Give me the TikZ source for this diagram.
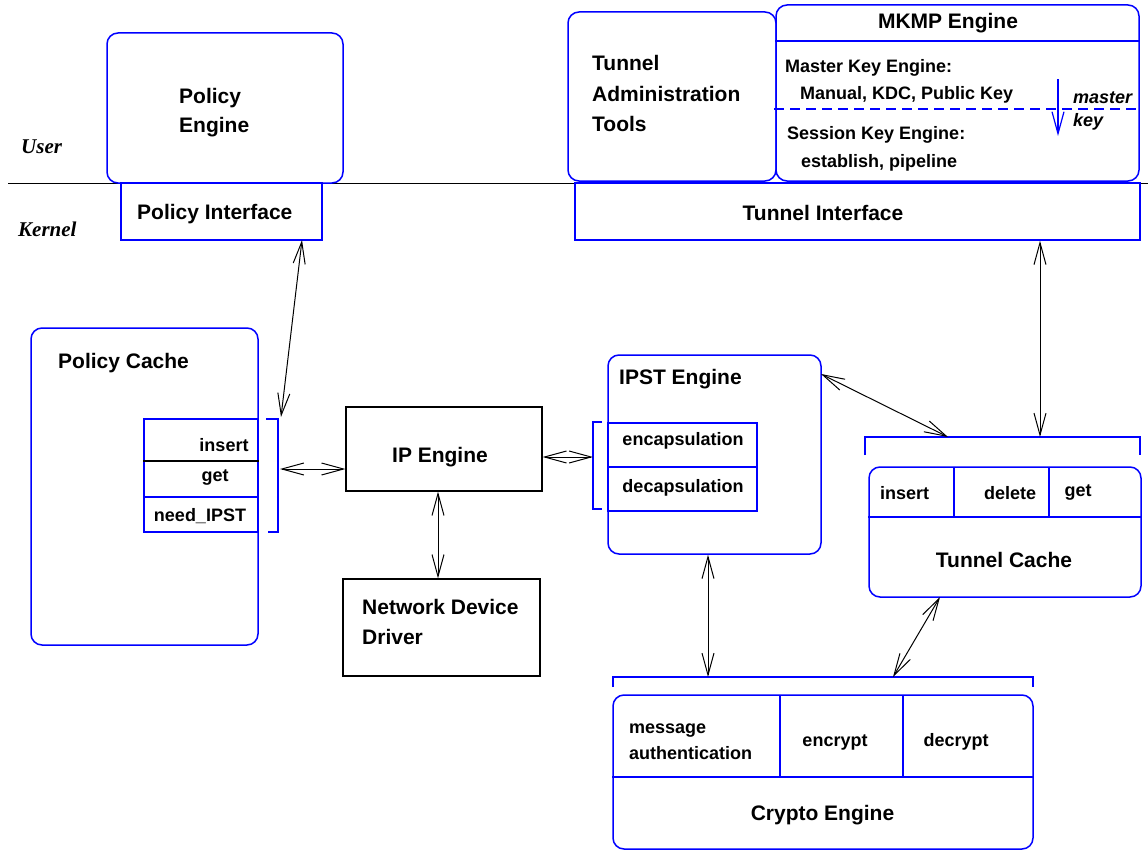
\documentclass[tikz,border=0pt]{standalone}
\usepackage{fontspec}
\setmainfont{Liberation Sans}
\newfontfamily\tnr{Liberation Serif}
\usetikzlibrary{arrows.meta}
\definecolor{fblue}{RGB}{0,0,255}
\tikzset{
  rbox/.style={draw=fblue, line width=1.5pt, rounded corners=11pt, inner sep=0pt},
  sbox/.style={draw=fblue, line width=1.5pt, inner sep=0pt},
  kbox/.style={draw=black, line width=1.2pt, inner sep=0pt},
  bline/.style={draw=fblue, line width=1.5pt},
  big/.style={font=\fontsize{21}{25}\selectfont\bfseries, inner sep=0pt},
  small/.style={font=\fontsize{18}{22}\selectfont\bfseries, inner sep=0pt},
  smallit/.style={font=\fontsize{18}{22}\selectfont\bfseries\itshape, inner sep=0pt},
  serifit/.style={font=\fontsize{21}{25}\tnr\bfseries\itshape, inner sep=0pt},
  arr/.style={draw=black, line width=1pt,
    {Straight Barb[length=22pt,width=12pt]}-{Straight Barb[length=22pt,width=12pt]}},
}
\begin{document}
\begin{tikzpicture}[x=1pt,y=-1pt]
\useasboundingbox (0,0) rectangle (1148,851);

% user / kernel divider
\coordinate (divL) at (8,183);
\coordinate (divR) at (1148,183);
\draw[line width=1pt] (divL) -- (divR);
\node[serifit, anchor=mid west] (user) at (21,151) {User};
\node[serifit, anchor=mid west] (kernel) at (18,234) {Kernel};

% Policy engine and interface
\node[rbox, minimum width=236pt, minimum height=150pt] (pe) at (225,108) {};
\node[big, anchor=mid west] (peA) at (179,101) {Policy};
\node[big, anchor=mid west] (peB) at (179,130) {Engine};
\node[sbox, minimum width=201pt, minimum height=57pt] (pi) at (221.5,211.5) {};
\node[big, anchor=mid west] (piT) at (137,217) {Policy Interface};

% Tunnel administration tools
\node[rbox, minimum width=208pt, minimum height=169pt] (tat) at (672,96.5) {};
\node[big, anchor=mid west] (tatA) at (592,68) {Tunnel};
\node[big, anchor=mid west] (tatB) at (592,99) {Administration};
\node[big, anchor=mid west] (tatC) at (592,129) {Tools};

% MKMP engine
\node[rbox, minimum width=363pt, minimum height=176pt] (mk) at (957.5,93) {};
\draw[bline] (mk.west |- 0,41) -- (mk.east |- 0,41);
\draw[draw=fblue, line width=1.5pt, dash pattern=on 10pt off 6pt] (774,109) -- (mk.east |- 0,109);
\node[big] (mkT) at (948,23) {MKMP Engine};
\node[small, anchor=mid west] (mkA) at (785,70) {Master Key Engine:};
\node[small, anchor=mid west] (mkB) at (800,97) {Manual, KDC, Public Key};
\node[small, anchor=mid west] (mkC) at (787,137) {Session Key Engine:};
\node[small, anchor=mid west] (mkD) at (801,165) {establish, pipeline};
\coordinate (mkeyA) at (1058,79);
\coordinate (mkeyB) at (1058,136);
\draw[draw=fblue, line width=1.2pt, -{Straight Barb[length=22pt,width=12pt]}] (mkeyA) -- (mkeyB);
\node[smallit, anchor=mid west] (mkE) at (1073,101) {master};
\node[smallit, anchor=mid west] (mkF) at (1073,124) {key};

% Tunnel interface
\node[sbox, minimum width=565pt, minimum height=57pt] (ti) at (857.5,211.5) {};
\node[big] (tiT) at (823,213) {Tunnel Interface};

% Policy cache
\node[rbox, minimum width=227pt, minimum height=317pt] (pc) at (144.5,486.5) {};
\node[big, anchor=mid west] (pcT) at (58,366) {Policy Cache};
\node[sbox, minimum width=114pt, minimum height=113pt] (pct) at (201,475.5) {};
\draw[line width=1.2pt] (pct.west |- 0,461) -- (pct.east |- 0,461);
\draw[bline] (pct.west |- 0,497) -- (pct.east |- 0,497);
\node[small] (pctA) at (224,445) {insert};
\node[small] (pctB) at (215,478) {get};
\node[small] (pctC) at (200,516) {need\_IPST};
\draw[bline] (266,419) -- (278,419) -- (278,532) -- (268,532);
\coordinate (pcbT) at (281,417);
\coordinate (pcbM) at (280,469);
\coordinate (piA) at (302,240);

% IP engine and network device driver
\node[kbox, minimum width=196pt, minimum height=84pt] (ip) at (444,449) {};
\node[big] (ipT) at (440,457) {IP Engine};
\node[kbox, minimum width=197pt, minimum height=97pt] (ndd) at (441.5,627.5) {};
\node[big, anchor=mid west] (nddA) at (362,612) {Network Device};
\node[big, anchor=mid west] (nddB) at (362,642) {Driver};
\coordinate (ipnd) at (438,0);

% IPST engine
\node[rbox, minimum width=213pt, minimum height=199pt] (ipst) at (714.5,454.5) {};
\node[big, anchor=mid west] (ipstT) at (619,382) {IPST Engine};
\node[sbox, minimum width=149pt, minimum height=88pt] (ipt) at (682.5,467) {};
\draw[bline] (ipt.west |- 0,467) -- (ipt.east |- 0,467);
\node[small] (iptA) at (683,441) {encapsulation};
\node[small] (iptB) at (683,488) {decapsulation};
\draw[bline] (602,422) -- (593,422) -- (593,509) -- (602,509);
\coordinate (ipbr) at (593,457);
\coordinate (ipstR) at (821,374);

% Tunnel cache
\draw[bline] (865,455) -- (865,437) -- (1140,437) -- (1140,455);
\node[rbox, minimum width=272pt, minimum height=130pt] (tc) at (1005,532) {};
\draw[bline] (tc.west |- 0,517) -- (tc.east |- 0,517);
\draw[bline] (954,467) -- (954,517);
\draw[bline] (1049,467) -- (1049,517);
\node[small, anchor=mid west] (tcA) at (880,497) {insert};
\node[small] (tcB) at (1010,493) {delete};
\node[small] (tcC) at (1078,493) {get};
\node[big] (tcT) at (1004,560) {Tunnel Cache};
\coordinate (tcbV) at (1040,437);
\coordinate (tcbD) at (948,437);
\coordinate (tcS) at (940,597);

% Crypto engine
\draw[bline] (613,687) -- (613,677) -- (1033,677) -- (1033,687);
\node[rbox, minimum width=420pt, minimum height=154pt] (ce) at (823,772) {};
\draw[bline] (ce.west |- 0,777) -- (ce.east |- 0,777);
\draw[bline] (780,695) -- (780,777);
\draw[bline] (903,695) -- (903,777);
\node[small, anchor=mid west] (ceA) at (629,731) {message};
\node[small, anchor=mid west] (ceB) at (629,757) {authentication};
\node[small] (ceC) at (835,742) {encrypt};
\node[small] (ceD) at (956,742) {decrypt};
\node[big] (ceT) at (822.5,815) {Crypto Engine};
\coordinate (cbA) at (708,677);
\coordinate (cbB) at (893,677);

% connectors
\draw[arr] (piA) -- (pcbT);
\draw[arr] (pcbM) -- (pcbM -| ip.west);
\draw[arr] (ip.south -| ipnd) -- (ndd.north -| ipnd);
\draw[arr] (ip.east |- ipbr) -- (ipbr);
\draw[arr] (ipst.south -| cbA) -- (cbA);
\draw[arr] (ipstR) -- (tcbD);
\draw[arr] (ti.south -| tcbV) -- (tcbV);
\draw[arr] (tcS) -- (cbB);
\end{tikzpicture}
\end{document}
